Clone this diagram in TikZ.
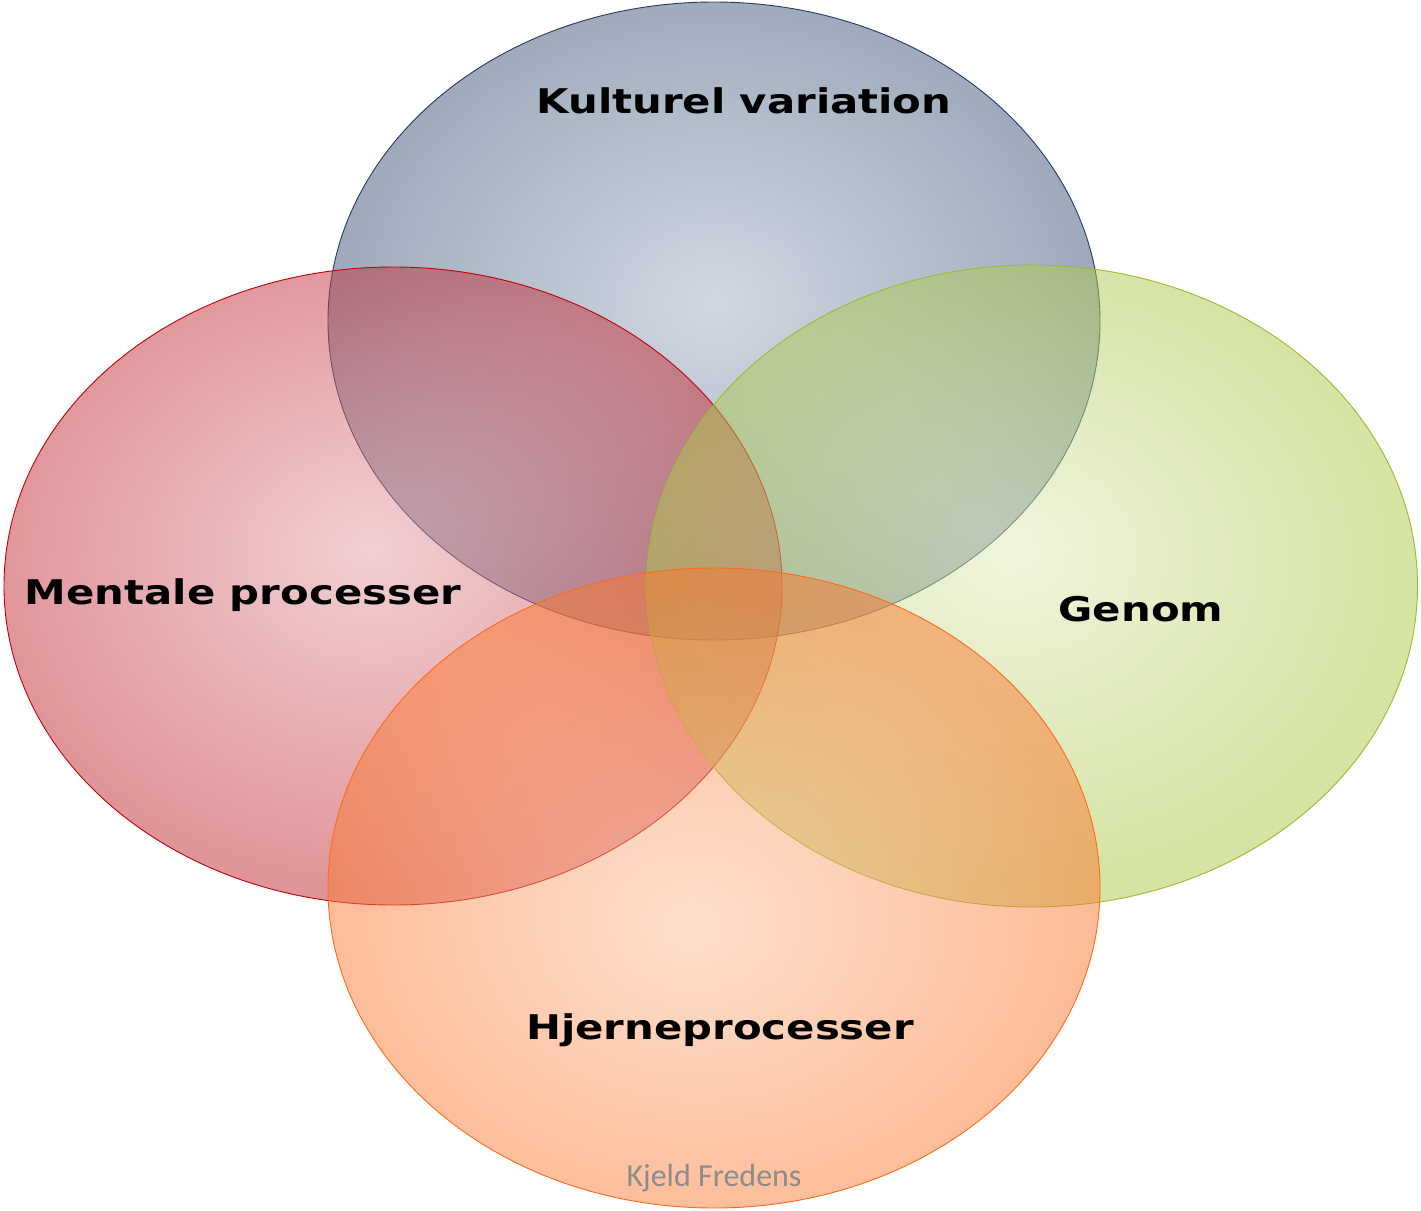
\documentclass[tikz,border=0pt]{standalone}
\usepackage{fontspec}
\usetikzlibrary{shapes.geometric}
\newfontfamily\lblfont{DejaVu Sans}[FakeStretch=1.23]
\newfontfamily\signfont{Carlito}
\definecolor{topc}{RGB}{161,177,197}
\definecolor{tope}{RGB}{61,85,119}
\definecolor{leftc}{RGB}{229,161,165}
\definecolor{lefte}{RGB}{193,43,53}
\definecolor{rightc}{RGB}{225,235,189}
\definecolor{righte}{RGB}{171,199,71}
\definecolor{botc}{RGB}{253,193,157}
\definecolor{bote}{RGB}{251,121,49}
\definecolor{topline}{RGB}{36,59,99}
\definecolor{leftline}{RGB}{192,0,10}
\definecolor{rightline}{RGB}{155,187,51}
\definecolor{botline}{RGB}{255,106,26}
\definecolor{signgray}{RGB}{140,140,140}
\pgfdeclareradialshading{topsh}{\pgfpoint{0bp}{1.5bp}}{color(0bp)=(topc); color(25bp)=(tope); color(50bp)=(tope)}
\pgfdeclareradialshading{leftsh}{\pgfpoint{-1.5bp}{3bp}}{color(0bp)=(leftc); color(25bp)=(lefte); color(50bp)=(lefte)}
\pgfdeclareradialshading{rightsh}{\pgfpoint{-1.5bp}{3bp}}{color(0bp)=(rightc); color(25bp)=(righte); color(50bp)=(righte)}
\pgfdeclareradialshading{botsh}{\pgfpoint{-1.5bp}{-3bp}}{color(0bp)=(botc); color(25bp)=(bote); color(50bp)=(bote)}
\begin{document}
\begin{tikzpicture}[x=1pt,y=-1pt,
  blob/.style={ellipse, inner sep=0pt, shade, fill opacity=0.5, draw opacity=1, line width=0.9pt},
  lbl/.style={font=\lblfont\bfseries\fontsize{34}{40}\selectfont, anchor=base, inner sep=0pt, text=black},
  sign/.style={font=\signfont\fontsize{32}{38}\selectfont, anchor=base, inner sep=0pt, text=signgray}]
\useasboundingbox (0,0) rectangle (1421,1210);
\node[blob, shading=topsh, draw=topline, minimum width=772pt, minimum height=638pt] (kult) at (714,321) {};
\node[blob, shading=leftsh, draw=leftline, minimum width=778pt, minimum height=638pt] (ment) at (393,586) {};
\node[blob, shading=rightsh, draw=rightline, minimum width=771pt, minimum height=642pt] (gen) at (1032,586) {};
\node[blob, shading=botsh, draw=botline, minimum width=772pt, minimum height=640pt] (hj) at (714,888) {};
\node[lbl] (tkult) at (744,113) {Kulturel variation};
\node[lbl] (tment) at (243,604) {Mentale processer};
\node[lbl] (tgen) at (1141,621) {Genom};
\node[lbl] (thj) at (720,1039) {Hjerneprocesser};
\node[sign] (tsign) at (714,1186) {Kjeld Fredens};
\end{tikzpicture}
\end{document}
